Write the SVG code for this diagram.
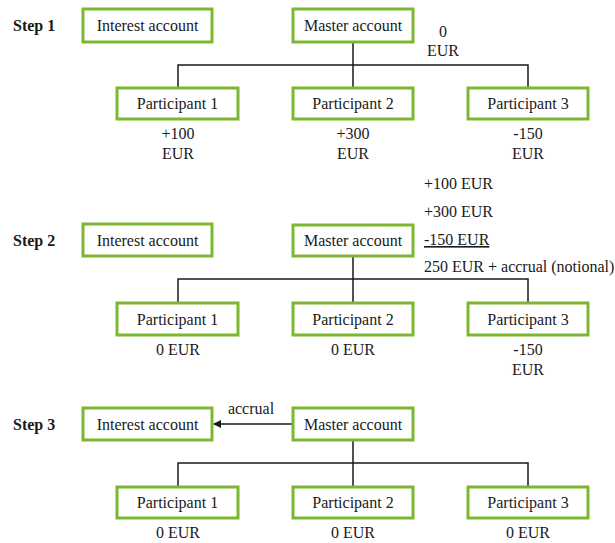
<svg xmlns="http://www.w3.org/2000/svg" width="615" height="543" viewBox="0 0 615 543">
  <style>
    .box { fill: #ffffff; stroke: #7cb82f; stroke-width: 3; }
    .lbl { font-family: "Liberation Serif", "Times New Roman", serif; font-size: 16px; fill: #1a1a1a; text-anchor: middle; }
    .val { font-family: "Liberation Serif", "Times New Roman", serif; font-size: 16px; fill: #1a1a1a; }
    .step { font-family: "Liberation Serif", "Times New Roman", serif; font-size: 16px; font-weight: bold; fill: #1a1a1a; }
    .wire { fill: none; stroke: #1a1a1a; stroke-width: 1.5; }
  </style>
  <defs>
    <marker id="arrow" markerWidth="8" markerHeight="8" refX="7" refY="4" orient="auto" markerUnits="userSpaceOnUse">
      <path d="M0,0 L8,4 L0,8 Z" fill="#1a1a1a"/>
    </marker>
  </defs>
  <rect width="615" height="543" fill="#ffffff"/>

  <!-- connectors -->
  <g id="connectors">
    <!-- step 1 -->
    <path class="wire" d="M353,42 V88 M178,88 V65 H528 V88"/>
    <!-- step 2 -->
    <path class="wire" d="M353,256 V303 M178,303 V279 H528 V303"/>
    <!-- step 3 -->
    <path class="wire" d="M353,440 V487 M178,487 V463 H528 V487"/>
    <line class="wire" x1="293" y1="424" x2="214" y2="424" marker-end="url(#arrow)"/>
  </g>

  <!-- step labels -->
  <text class="step" x="13" y="31">Step 1</text>
  <text class="step" x="13" y="246">Step 2</text>
  <text class="step" x="13" y="430">Step 3</text>

  <!-- Step 1 -->
  <g id="s1-interest"><rect class="box" x="83" y="9" width="129" height="33"/><text class="lbl" x="147.5" y="31">Interest account</text></g>
  <g id="s1-master"><rect class="box" x="293" y="9" width="120" height="33"/><text class="lbl" x="353" y="31">Master account</text></g>
  <g id="s1-p1"><rect class="box" x="117" y="88" width="121" height="31"/><text class="lbl" x="177.5" y="109">Participant 1</text></g>
  <g id="s1-p2"><rect class="box" x="293" y="88" width="120" height="31"/><text class="lbl" x="353" y="109">Participant 2</text></g>
  <g id="s1-p3"><rect class="box" x="468" y="88" width="120" height="31"/><text class="lbl" x="528" y="109">Participant 3</text></g>
  <text class="lbl" x="443" y="37">0</text>
  <text class="lbl" x="443" y="56">EUR</text>
  <text class="lbl" x="178" y="139">+100</text>
  <text class="lbl" x="178" y="159">EUR</text>
  <text class="lbl" x="353" y="139">+300</text>
  <text class="lbl" x="353" y="159">EUR</text>
  <text class="lbl" x="528" y="139">-150</text>
  <text class="lbl" x="528" y="159">EUR</text>

  <!-- Step 2 -->
  <g id="s2-interest"><rect class="box" x="83" y="224" width="129" height="32"/><text class="lbl" x="147.5" y="246">Interest account</text></g>
  <g id="s2-master"><rect class="box" x="293" y="225" width="120" height="31"/><text class="lbl" x="353" y="246">Master account</text></g>
  <g id="s2-p1"><rect class="box" x="117" y="303" width="121" height="32"/><text class="lbl" x="177.5" y="325">Participant 1</text></g>
  <g id="s2-p2"><rect class="box" x="293" y="303" width="120" height="32"/><text class="lbl" x="353" y="325">Participant 2</text></g>
  <g id="s2-p3"><rect class="box" x="468" y="303" width="120" height="32"/><text class="lbl" x="528" y="325">Participant 3</text></g>
  <text class="val" x="424" y="189">+100 EUR</text>
  <text class="val" x="424" y="217">+300 EUR</text>
  <text class="val" x="424" y="245" text-decoration="underline">-150 EUR</text>
  <text class="val" x="424" y="272">250 EUR + accrual (notional)</text>
  <text class="lbl" x="178" y="355">0 EUR</text>
  <text class="lbl" x="353" y="355">0 EUR</text>
  <text class="lbl" x="528" y="355">-150</text>
  <text class="lbl" x="528" y="375">EUR</text>

  <!-- Step 3 -->
  <g id="s3-interest"><rect class="box" x="83" y="408" width="129" height="32"/><text class="lbl" x="147.5" y="430">Interest account</text></g>
  <g id="s3-master"><rect class="box" x="293" y="408" width="120" height="32"/><text class="lbl" x="353" y="430">Master account</text></g>
  <g id="s3-p1"><rect class="box" x="117" y="487" width="121" height="31"/><text class="lbl" x="177.5" y="508">Participant 1</text></g>
  <g id="s3-p2"><rect class="box" x="293" y="487" width="120" height="31"/><text class="lbl" x="353" y="508">Participant 2</text></g>
  <g id="s3-p3"><rect class="box" x="468" y="487" width="120" height="31"/><text class="lbl" x="528" y="508">Participant 3</text></g>
  <text class="lbl" x="251" y="414">accrual</text>
  <text class="lbl" x="178" y="538">0 EUR</text>
  <text class="lbl" x="353" y="538">0 EUR</text>
  <text class="lbl" x="528" y="538">0 EUR</text>
</svg>
